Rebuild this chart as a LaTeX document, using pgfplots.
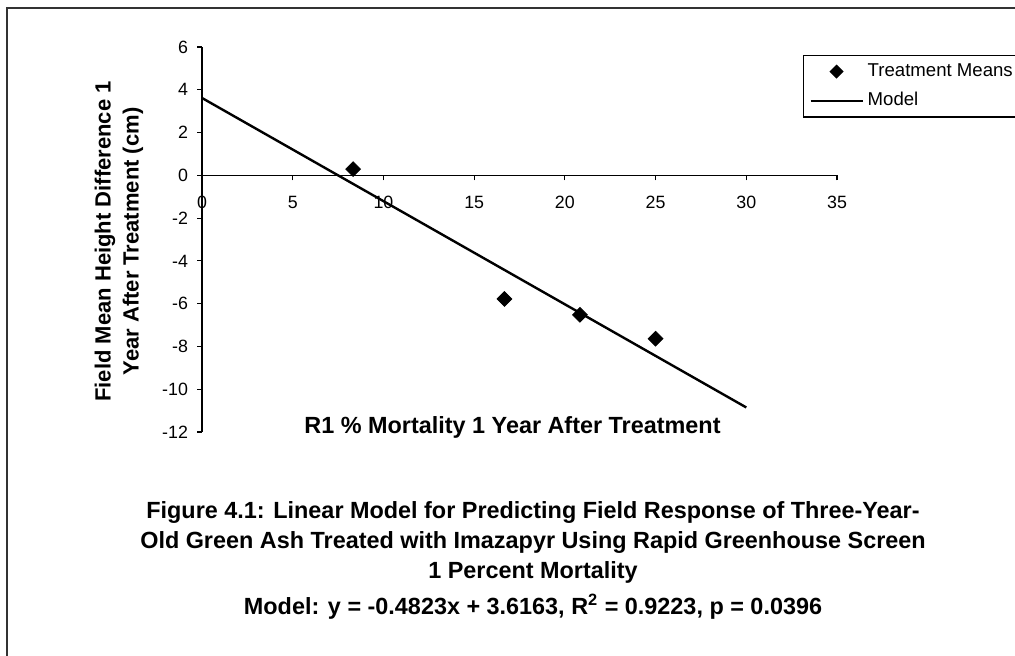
\documentclass[border=0pt]{standalone}
\usepackage{fontspec}
\setmainfont{Liberation Sans}
\usepackage{pgfplots}
\pgfplotsset{compat=1.18}
\begin{document}
\begin{tikzpicture}
\useasboundingbox (0pt,0pt) rectangle (507.5pt,-328pt);
\draw[line width=1pt, black!80] (3.5pt,-330pt) -- (3.5pt,-4pt) -- (510pt,-4pt);
\begin{axis}[
  at={(101pt,-216pt)}, anchor=south west,
  scale only axis, width=317.5pt, height=192.5pt,
  xmin=0, xmax=35, ymin=-12, ymax=6,
  axis x line=middle, axis y line=left,
  axis line style={-, line width=0.6pt},
  xtick={0,5,...,35}, ytick={-12,-10,...,6},
  hide obscured x ticks=false, hide obscured y ticks=false,
  tick align=outside, major tick length=2.5pt,
  tick style={black, line width=0.6pt},
  /pgf/number format/assume math mode=true,
  ticklabel style={font=\fontsize{8.9}{10}\selectfont},
  xticklabel style={yshift=-4.5pt},
  yticklabel style={xshift=-1pt},
  xlabel={R1 \% Mortality 1 Year After Treatment},
  xlabel style={at={(axis description cs:0.489,-0.003)}, anchor=base, font=\fontsize{11.7}{14}\selectfont\bfseries},
  ylabel={Field Mean Height Difference 1\\Year After Treatment (cm)},
  ylabel style={at={(axis description cs:-0.131,0.495)}, anchor=center, align=center, font=\fontsize{11}{14}\selectfont\bfseries},
  legend style={at={(axis description cs:0.946,0.979)}, anchor=north west, draw=black, line width=0.6pt, font=\fontsize{9.3}{11}\selectfont, row sep=2.5pt},
  legend cell align=left,
  clip=false,
]
\addplot[only marks, mark=square*, mark size=2.6pt, mark options={rotate=45, fill=black, draw=black},
  legend image code/.code={\draw plot[only marks, mark=square*, mark size=2.2pt, mark options={rotate=45, fill=black, draw=black}] coordinates {(13pt,0pt)};}]
  coordinates {(8.33,0.29) (16.67,-5.78) (20.83,-6.52) (25.0,-7.64)};
\addlegendentry{Treatment Means}
\addplot[black, line width=1.2pt, mark=none,
  legend image code/.code={\draw[black, line width=1.2pt] (0pt,0pt) -- (26pt,0pt);}]
  coordinates {(0,3.6163) (30,-10.8527)};
\addlegendentry{Model}
\end{axis}
\begin{scope}[font=\fontsize{11.7}{14}\selectfont\bfseries]
\node[anchor=base] at (266.5pt,-259pt) {Figure 4.1: Linear Model for Predicting Field Response of Three-Year-};
\node[anchor=base] at (266.5pt,-274pt) {Old Green Ash Treated with Imazapyr Using Rapid Greenhouse Screen};
\node[anchor=base] at (266.5pt,-289pt) {1 Percent Mortality};
\node[anchor=base] at (266.5pt,-307pt) {Model: y = -0.4823x + 3.6163, R\textsuperscript{2} = 0.9223, p = 0.0396};
\end{scope}
\end{tikzpicture}
\end{document}
